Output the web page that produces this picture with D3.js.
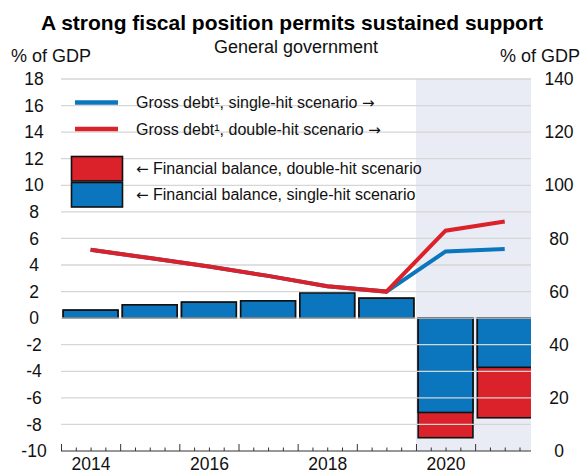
<!DOCTYPE html>
<html>
<head>
<meta charset="utf-8">
<script src="https://cdn.jsdelivr.net/npm/d3@7"></script>
<style>
  html, body { margin: 0; padding: 0; background: #fff; }
  svg { display: block; font-family: "Liberation Sans", Arial, sans-serif; }
</style>
</head>
<body>
<svg id="chart" width="585" height="474"></svg>
<script>
// Years on the horizontal axis
const years = [2014, 2015, 2016, 2017, 2018, 2019, 2020, 2021];
const labelYears = [2014, 2016, 2018, 2020];

// Financial balance, % of GDP (left axis)
const balanceSingle = [0.6, 1.0, 1.2, 1.3, 1.9, 1.5, -7.1, -3.7];
const balanceDouble = [0.6, 1.0, 1.2, 1.3, 1.9, 1.5, -9.0, -7.5];

// Gross debt, % of GDP (right axis)
const debtSingle = [75.7, 72.6, 69.4, 65.9, 62.0, 60.0, 75.1, 76.0];
const debtDouble = [75.7, 72.6, 69.4, 65.9, 62.0, 60.0, 82.9, 86.4];

// Axis ticks
const leftTicks = [-10, -8, -6, -4, -2, 0, 2, 4, 6, 8, 10, 12, 14, 16, 18];
const rightTicks = [0, 20, 40, 60, 80, 100, 120, 140];

// Projection years (shaded)
const projectionYears = [2020, 2021];

const BLUE = "#0b76bd";
const RED = "#db2129";
const GRID = "#d6d6d6";
const SHADE = "#e9ecf5";
const FONT = "Liberation Sans, Arial, sans-serif";

const svg = d3.select("#chart");
const L = 61, R = 531, T = 79, B = 451;

const x = d3.scaleLinear().domain([2013.5, 2021.5]).range([L, 534.3]);
const step = x(1) - x(0);
const barPad = 2.2;
const yL = d3.scaleLinear().domain([-10, 18]).range([B, T]);
const yR = d3.scaleLinear().domain([0, 140]).range([B, T]);

svg.append("defs").append("clipPath").attr("id", "plot")
  .append("rect").attr("x", L).attr("y", 0).attr("width", R - L).attr("height", 474);

const plot = svg.append("g").attr("clip-path", "url(#plot)");

// Projection shading
plot.append("rect")
  .attr("x", x(d3.min(projectionYears) - 0.5))
  .attr("y", T)
  .attr("width", x(d3.max(projectionYears) + 0.5) - x(d3.min(projectionYears) - 0.5))
  .attr("height", B - T)
  .attr("fill", SHADE);

// Bars: double-hit drawn first, single-hit on top
const bars = plot.append("g");
years.forEach((yr, i) => {
  const x0 = x(yr - 0.5) + barPad, w = step - 2 * barPad;
  [[balanceDouble[i], RED], [balanceSingle[i], BLUE]].forEach(([v, c]) => {
    bars.append("rect")
      .attr("x", x0)
      .attr("y", Math.min(yL(0), yL(v)))
      .attr("width", w)
      .attr("height", Math.abs(yL(v) - yL(0)))
      .attr("fill", c)
      .attr("stroke", "#111")
      .attr("stroke-width", 1.6);
  });
});

// Horizontal gridlines
plot.append("g").selectAll("line")
  .data(leftTicks.filter(d => d > -10))
  .join("line")
  .attr("x1", L).attr("x2", R)
  .attr("y1", d => yL(d)).attr("y2", d => yL(d))
  .attr("stroke", GRID).attr("stroke-width", 1.3);

// Debt lines
const line = d3.line().x((d, i) => x(years[i])).y(d => yR(d));
plot.append("path").datum(debtSingle).attr("d", line)
  .attr("fill", "none").attr("stroke", BLUE).attr("stroke-width", 4);
plot.append("path").datum(debtDouble).attr("d", line)
  .attr("fill", "none").attr("stroke", RED).attr("stroke-width", 4);

// Bottom axis: baseline, major and minor ticks pointing up
const boundaries = d3.range(2013.5, 2021.5, 1).filter(v => x(v) <= R);
const quarters = d3.range(2013.5, 2021.5, 0.25).filter(v => x(v) <= R && (v - 0.5) % 1 !== 0);
const axisG = svg.append("g").attr("transform", `translate(0,${B})`);
axisG.append("g").call(d3.axisBottom(x).tickValues(quarters).tickSizeInner(-3.5).tickSizeOuter(0).tickFormat(""));
axisG.append("g").call(d3.axisBottom(x).tickValues(boundaries).tickSizeInner(-7).tickSizeOuter(0).tickFormat(""));
axisG.selectAll(".domain").remove();
axisG.selectAll("line").attr("stroke", "#333").attr("stroke-width", 1);
axisG.append("line").attr("x1", L).attr("x2", R).attr("stroke", "#333").attr("stroke-width", 1.2);
const labG = axisG.append("g").call(d3.axisBottom(x).tickValues(labelYears).tickSize(0).tickPadding(0).tickFormat(d => String(d)));
labG.select(".domain").remove();
labG.selectAll("text").attr("font-size", 17.5).attr("fill", "#111")
  .attr("font-family", FONT).attr("dy", "1.1em");

// Plain hyphen for negative numbers
const plain = d => String(d);

// Left axis labels
const leftG = svg.append("g").attr("transform", "translate(34,0)")
  .call(d3.axisLeft(yL).tickValues(leftTicks).tickSize(0).tickPadding(0).tickFormat(plain));
leftG.select(".domain").remove();
leftG.selectAll("text").attr("text-anchor", "middle").attr("font-size", 17.5).attr("fill", "#111")
  .attr("font-family", FONT);

// Right axis labels
const rightG = svg.append("g").attr("transform", "translate(559,0)")
  .call(d3.axisRight(yR).tickValues(rightTicks).tickSize(0).tickPadding(0).tickFormat(plain));
rightG.select(".domain").remove();
rightG.selectAll("text").attr("text-anchor", "middle").attr("font-size", 17.5).attr("fill", "#111")
  .attr("font-family", FONT);

// Titles
svg.append("text").attr("x", 292).attr("y", 30).attr("text-anchor", "middle")
  .attr("font-size", 21).attr("font-weight", "bold").attr("fill", "#000")
  .text("A strong fiscal position permits sustained support");
svg.append("text").attr("x", 296).attr("y", 53).attr("text-anchor", "middle")
  .attr("font-size", 18).attr("fill", "#111").text("General government");
svg.append("text").attr("x", 11).attr("y", 62).attr("font-size", 18).attr("fill", "#111").text("% of GDP");
svg.append("text").attr("x", 580).attr("y", 62).attr("text-anchor", "end")
  .attr("font-size", 18).attr("fill", "#111").text("% of GDP");

// Legend
const ARROW_FONT = "DejaVu Sans, sans-serif";
const leg = svg.append("g").attr("font-size", 16).attr("fill", "#111");
[["Gross debt\u00B9, single-hit scenario ", BLUE, 102.5],
 ["Gross debt\u00B9, double-hit scenario ", RED, 129]].forEach(([t, c, yy]) => {
  leg.append("line").attr("x1", 75).attr("x2", 118).attr("y1", yy).attr("y2", yy)
    .attr("stroke", c).attr("stroke-width", 4.5);
  const tx = leg.append("text").attr("x", 136).attr("y", yy + 5.5);
  tx.append("tspan").text(t);
  tx.append("tspan").attr("font-family", ARROW_FONT).attr("font-size", 15).text("\u2192");
});
[["Financial balance, double-hit scenario", RED, 156.5],
 ["Financial balance, single-hit scenario", BLUE, 182.5]].forEach(([t, c, yy]) => {
  leg.append("rect").attr("x", 71.5).attr("y", yy).attr("width", 51).attr("height", 24.5)
    .attr("fill", c).attr("stroke", "#111").attr("stroke-width", 1.6);
  const tx = leg.append("text").attr("x", 136).attr("y", yy + 17.5);
  tx.append("tspan").attr("font-family", ARROW_FONT).attr("font-size", 15).text("\u2190");
  tx.append("tspan").text(" " + t);
});
</script>
</body>
</html>
